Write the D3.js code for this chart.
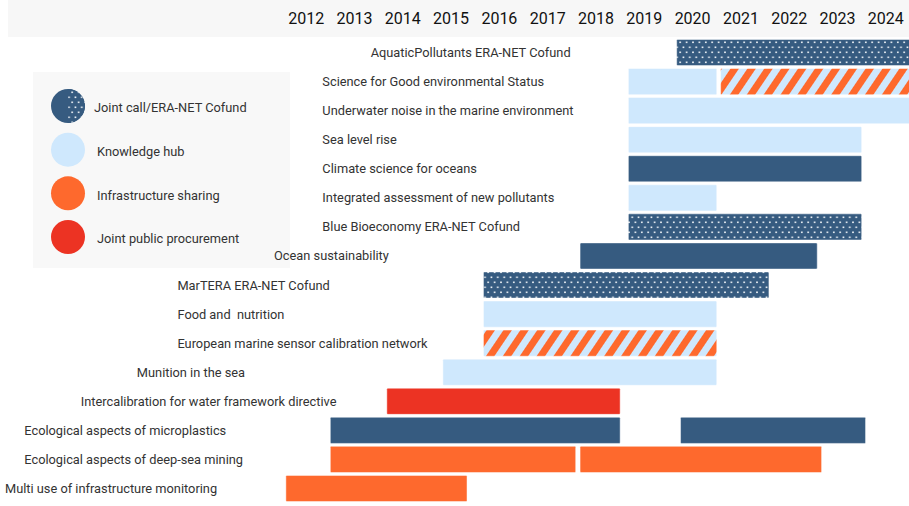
<!DOCTYPE html>
<html>
<head>
<meta charset="utf-8">
<script src="https://cdn.jsdelivr.net/npm/d3@7"></script>
<style>
  body { margin: 0; background: #fff; }
  text { font-family: Roboto, "Noto Sans", sans-serif; fill: #333; white-space: pre; }
</style>
</head>
<body>
<script>
// chart data
var years = [2012, 2013, 2014, 2015, 2016, 2017, 2018, 2019, 2020, 2021, 2022, 2023, 2024];

var projects = [
  'AquaticPollutants ERA-NET Cofund',
  'Science for Good environmental Status',
  'Underwater noise in the marine environment',
  'Sea level rise',
  'Climate science for oceans',
  'Integrated assessment of new pollutants',
  'Blue Bioeconomy ERA-NET Cofund',
  'Ocean sustainability',
  'MarTERA ERA-NET Cofund',
  'Food and  nutrition',
  'European marine sensor calibration network',
  'Munition in the sea',
  'Intercalibration for water framework directive',
  'Ecological aspects of microplastics',
  'Ecological aspects of deep-sea mining',
  'Multi use of infrastructure monitoring'
];

var starts = [[2020.17], [2019.17, 2021.08], [2019.17], [2019.17], [2019.17], [2019.17], [2019.17],
  [2018.17], [2016.17], [2016.17], [2016.17], [2015.33], [2014.17], [2013, 2020.25], [2013, 2018.17], [2012.08]];
var ends = [[2025.2], [2021, 2025.2], [2025.2], [2024], [2024], [2021], [2024],
  [2023.08], [2022.08], [2021], [2021], [2021], [2019], [2019, 2024.08], [2018.08, 2023.17], [2015.83]];
var kinds = [['dots'], ['hub', 'hatch'], ['hub'], ['hub'], ['dark'], ['hub'], ['dots'],
  ['dark'], ['dots'], ['hub'], ['hatch'], ['hub'], ['proc'], ['dark', 'dark'], ['infra', 'infra'], ['infra']];

var legendLabels = ['Joint call/ERA-NET Cofund', 'Knowledge hub', 'Infrastructure sharing', 'Joint public procurement'];
var legendKinds = ['legendJoint', 'hub', 'infra', 'proc'];

var dark = '#365b80', light = '#cfe8fd', orange = '#fe692d', red = '#ec3323';

var svg = d3.select('body').append('svg')
    .attr('width', 909)
    .attr('height', 506);

var defs = svg.append('defs');

var dots = defs.append('pattern')
    .attr('id', 'dots')
    .attr('patternUnits', 'userSpaceOnUse')
    .attr('width', 6.4)
    .attr('height', 10);
dots.append('rect').attr('width', 6.4).attr('height', 10).attr('fill', dark);
dots.append('rect').attr('x', 1).attr('y', 1.5).attr('width', 1.6).attr('height', 1.6).attr('fill', '#f4f7fa');
dots.append('rect').attr('x', 4.2).attr('y', 6.5).attr('width', 1.6).attr('height', 1.6).attr('fill', '#f4f7fa');

var hatch = defs.append('pattern')
    .attr('id', 'hatch')
    .attr('patternUnits', 'userSpaceOnUse')
    .attr('width', 14)
    .attr('height', 10)
    .attr('patternTransform', 'rotate(34)');
hatch.append('rect').attr('width', 14).attr('height', 10).attr('fill', light);
hatch.append('rect').attr('width', 7).attr('height', 10).attr('fill', orange);

var fills = {
  dots: 'url(#dots)',
  dark: dark,
  hub: light,
  infra: orange,
  hatch: 'url(#hatch)',
  proc: red
};

var x = d3.scaleLinear()
    .domain([2012, 2025])
    .range([282, 910]);

var y = d3.scaleBand()
    .domain(projects)
    .range([38, 503])
    .paddingInner(0.1)
    .paddingOuter(0.05);

// year band on top
svg.append('rect')
    .attr('x', 8)
    .attr('y', 0)
    .attr('width', 901)
    .attr('height', 37)
    .attr('fill', '#f7f7f7');

svg.append('g').selectAll('text')
    .data(years)
    .enter().append('text')
    .attr('x', function (d) { return x(d + 0.5); })
    .attr('y', 24)
    .attr('text-anchor', 'middle')
    .style('font-size', '16px')
    .style('fill', '#111')
    .text(function (d) { return d; });

// bars
var segs = [];
projects.forEach(function (p, i) {
  starts[i].forEach(function (s, j) {
    segs.push({ project: p, start: s, end: ends[i][j], kind: kinds[i][j] });
  });
});

svg.append('g').selectAll('rect')
    .data(segs)
    .enter().append('rect')
    .attr('x', function (d) { return x(d.start); })
    .attr('y', function (d) { return y(d.project); })
    .attr('width', function (d) { return x(d.end) - x(d.start); })
    .attr('height', y.bandwidth())
    .attr('rx', 1)
    .attr('fill', function (d) { return fills[d.kind]; })
    .attr('stroke', '#fff')
    .attr('stroke-opacity', 0.6)
    .attr('stroke-width', 0.8);

// legend
svg.append('rect')
    .attr('x', 33)
    .attr('y', 72)
    .attr('width', 257)
    .attr('height', 196)
    .attr('fill', '#f8f8f8');

var ly = d3.scalePoint()
    .domain(legendLabels)
    .range([106, 237]);

defs.append('clipPath').attr('id', 'halfRight')
  .append('rect')
    .attr('x', 68)
    .attr('y', ly(legendLabels[0]) - 18)
    .attr('width', 20)
    .attr('height', 36);

var legend = svg.append('g');

legend.selectAll('circle')
    .data(legendLabels)
    .enter().append('circle')
    .attr('cx', 68)
    .attr('cy', function (d) { return ly(d); })
    .attr('r', 17)
    .attr('fill', function (d, i) { return legendKinds[i] == 'legendJoint' ? dark : fills[legendKinds[i]]; });

legend.append('circle')
    .attr('cx', 68)
    .attr('cy', ly(legendLabels[0]))
    .attr('r', 17)
    .attr('fill', 'url(#dots)')
    .attr('clip-path', 'url(#halfRight)');

legend.selectAll('text')
    .data(legendLabels)
    .enter().append('text')
    .attr('x', function (d, i) { return i == 0 ? 94 : 97; })
    .attr('y', function (d) { return ly(d) + 2; })
    .attr('dy', '0.35em')
    .style('font-size', '12.8px')
    .text(function (d) { return d; });

// project labels, placed left of the first bar (drawn over the legend box)
svg.append('g').selectAll('text')
    .data(projects)
    .enter().append('text')
    .attr('x', function (d, i) { return Math.max(5, x(starts[i][0]) - 306); })
    .attr('y', function (d) { return y(d) + y.bandwidth() / 2; })
    .attr('dy', '0.35em')
    .style('font-size', '12.8px')
    .text(function (d) { return d; });
</script>
</body>
</html>
